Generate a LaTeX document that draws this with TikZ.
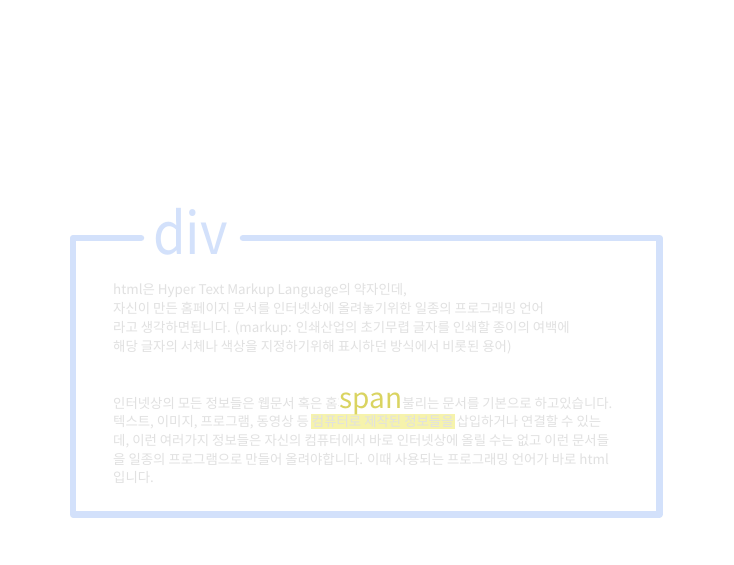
\documentclass[tikz,border=0pt]{standalone}
\usepackage{fontspec}
\setmainfont{Noto Sans CJK KR}
\definecolor{frameblue}{HTML}{D3E1FB}
\definecolor{txtgray}{HTML}{E1E1E1}
\definecolor{spanyel}{HTML}{DAD461}
\definecolor{hly}{HTML}{F6F3AC}
\newcommand{\hlbox}[1]{{\setlength{\fboxsep}{1.2pt}\kern-1.2pt\colorbox{hly}{#1}\kern-1.2pt}}
\tikzset{
  framepath/.style={draw=frameblue, line width=6.5pt, line cap=round, line join=round},
  bodytxt/.style={anchor=base west, inner sep=0pt, text=txtgray, font=\fontsize{13.4}{15}\selectfont},
  divlabel/.style={anchor=base west, inner sep=0pt, text=frameblue, font=\fontsize{58}{60}\selectfont},
  spanlabel/.style={anchor=base west, inner xsep=0pt, inner ysep=0pt, fill=white, text=spanyel, font=\fontsize{28}{30}\selectfont}
}
\begin{document}
\begin{tikzpicture}[x=1pt,y=-1pt]
\useasboundingbox[fill=white] (0,0) rectangle (734,565);
% frame
\coordinate (fl) at (141,238);
\coordinate (fr) at (243,238);
\draw[framepath] (fl) -- (73,238) -- (73,514.5) -- (659.5,514.5) -- (659.5,238) -- (fr);
\node[divlabel] (div) at (153,254) {\scalebox{0.91}[1]{div}};
% paragraph 1
\node[bodytxt] (p1a) at (113,294) {html은 Hyper Text Markup Language의 약자인데,};
\node[bodytxt] (p1b) at (113,313.5) {자신이 만든 홈페이지 문서를 인터넷상에 올려놓기위한 일종의 프로그래밍 언어};
\node[bodytxt] (p1c) at (113,332.5) {라고 생각하면됩니다. (markup: 인쇄산업의 초기무렵 글자를 인쇄할 종이의 여백에};
\node[bodytxt] (p1d) at (113,351.5) {해당 글자의 서체나 색상을 지정하기위해 표시하던 방식에서 비롯된 용어)};
% paragraph 2
\node[bodytxt] (p2a) at (113,408) {인터넷상의 모든 정보들은 웹문서 혹은 홈페이지라고 불리는 문서를 기본으로 하고있습니다.};
\node[bodytxt] (p2b) at (113,426.5) {텍스트, 이미지, 프로그램, 동영상 등 \hlbox{컴퓨터로 제작된 정보들을} 삽입하거나 연결할 수 있는};
\node[bodytxt] (p2c) at (113,445.5) {데, 이런 여러가지 정보들은 자신의 컴퓨터에서 바로 인터넷상에 올릴 수는 없고 이런 문서들};
\node[bodytxt] (p2d) at (113,464.5) {을 일종의 프로그램으로 만들어 올려야합니다. 이때 사용되는 프로그래밍 언어가 바로 html};
\node[bodytxt] (p2e) at (113,482.5) {입니다.};
% span label
\node[spanlabel] (span) at (339,408) {span};
\end{tikzpicture}
\end{document}
